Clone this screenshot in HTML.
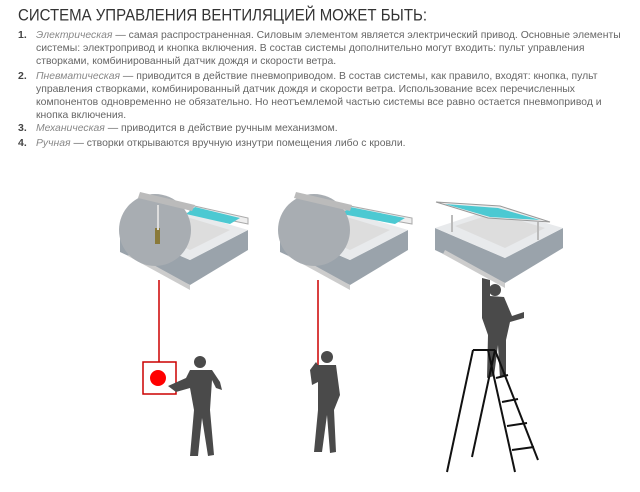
<!DOCTYPE html>
<html><head><meta charset="utf-8"><style>
body{margin:0;width:640px;height:492px;background:#fff;overflow:hidden;font-family:"Liberation Sans","DejaVu Sans",sans-serif;position:relative}
h1{position:absolute;left:18px;top:6px;margin:0;font-weight:normal;font-size:15px;color:#333;transform:scaleY(1.13);transform-origin:left top}
.li{position:absolute;left:18px;font-size:10.4px;color:#666;line-height:13px;width:615px}
.li b{position:absolute;left:0;top:0;color:#444;font-size:10.5px}
.li div{margin-left:18px}
i{color:#888}
svg{position:absolute;left:0;top:0}
</style></head><body>
<h1>СИСТЕМА УПРАВЛЕНИЯ ВЕНТИЛЯЦИЕЙ МОЖЕТ БЫТЬ:</h1>
<div class="li" style="top:29px"><b>1.</b><div><i>Электрическая</i> — самая распространенная. Силовым элементом является электрический привод. Основные элементы системы: электропривод и кнопка включения. В состав системы дополнительно могут входить: пульт управления створками, комбинированный датчик дождя и скорости ветра.</div></div>
<div class="li" style="top:70px"><b>2.</b><div><i>Пневматическая</i> — приводится в действие пневмоприводом. В состав системы, как правило, входят: кнопка, пульт управления створками, комбинированный датчик дождя и скорости ветра. Использование всех перечисленных компонентов одновременно не обязательно. Но неотъемлемой частью системы все равно остается пневмопривод и кнопка включения.</div></div>
<div class="li" style="top:122px"><b>3.</b><div><i>Механическая</i> — приводится в действие ручным механизмом.</div></div>
<div class="li" style="top:137px"><b>4.</b><div><i>Ручная</i> — створки открываются вручную изнутри помещения либо с кровли.</div></div>
<svg width="640" height="492">
<defs>
<g id="win">
<polygon points="0,40 70,70 128,40 128,60 70,95 0,62" fill="#9aa3ab"/>
<polygon points="0,40 70,70 128,40 60,20" fill="#e8eaec"/>
<polygon points="20,38 70,60 110,40 60,25" fill="#ddd"/>
<polygon points="10,62 70,95 70,100 8,66" fill="#ccc"/>
</g>
</defs>
<use href="#win" x="120" y="190"/>
<polygon points="190,205 248,218 248,224 190,212" fill="#eee" stroke="#aaa"/>
<polygon points="195,207 240,218 230,224 186,214" fill="#4cc9d2"/>
<circle cx="155" cy="230" r="36" fill="#a8adb2"/>
<rect x="155" y="228" width="5" height="16" fill="#8a7a3a"/>
<line x1="158" y1="205" x2="158" y2="230" stroke="#ddd" stroke-width="2"/>
<polygon points="140,192 195,205 192,211 138,198" fill="#bbb"/>
<line x1="159" y1="280" x2="159" y2="362" stroke="#c00" stroke-width="1.5"/>
<rect x="143" y="362" width="33" height="32" fill="none" stroke="#c00" stroke-width="1.5"/>
<circle cx="158" cy="378" r="8" fill="#f00"/>
<use href="#win" x="280" y="190"/>
<polygon points="345,205 412,218 412,224 345,212" fill="#eee" stroke="#aaa"/>
<polygon points="350,207 405,218 395,224 342,214" fill="#4cc9d2"/>
<circle cx="314" cy="230" r="36" fill="#a8adb2"/>
<polygon points="296,192 352,205 350,211 294,198" fill="#bbb"/>
<line x1="318" y1="280" x2="318" y2="365" stroke="#c00" stroke-width="1.5"/>
<use href="#win" x="435" y="188"/>
<line x1="452" y1="215" x2="452" y2="232" stroke="#bbb" stroke-width="2"/>
<line x1="538" y1="222" x2="538" y2="240" stroke="#bbb" stroke-width="2"/>
<polygon points="436,202 500,206 550,222 488,218" fill="#eee" stroke="#999"/>
<polygon points="445,204 498,208 540,220 490,217" fill="#4cc9d2"/>
<g fill="#4a4a4a">
<circle cx="200" cy="362" r="6"/><path d="M190,370 L212,370 L220,382 L222,390 L216,388 L212,380 L210,410 L214,455 L208,456 L202,418 L198,456 L190,456 L194,410 L190,388 L176,392 L168,386 L186,378Z"/>
<circle cx="327" cy="357" r="6"/><path d="M318,365 L336,365 L340,395 L334,410 L336,452 L330,453 L327,415 L322,452 L314,452 L318,410 L318,382 L312,385 L310,370 L316,362Z"/>
<circle cx="495" cy="290" r="6"/><path d="M482,278 L490,280 L490,296 L504,297 L512,316 L524,312 L524,318 L510,322 L506,340 L506,376 L500,378 L498,345 L494,376 L487,378 L488,335 L482,318Z"/>
</g>
<g stroke="#111" stroke-width="2" fill="none">
<line x1="473" y1="350" x2="447" y2="472"/><line x1="495" y1="350" x2="472" y2="457"/>
<line x1="473" y1="350" x2="495" y2="350"/>
<line x1="488" y1="350" x2="515" y2="472"/><line x1="495" y1="350" x2="538" y2="460"/>
<line x1="496" y1="378" x2="508" y2="375"/><line x1="502" y1="402" x2="518" y2="399"/><line x1="507" y1="426" x2="527" y2="423"/><line x1="512" y1="450" x2="534" y2="447"/>
</g>
</svg>
</body></html>
